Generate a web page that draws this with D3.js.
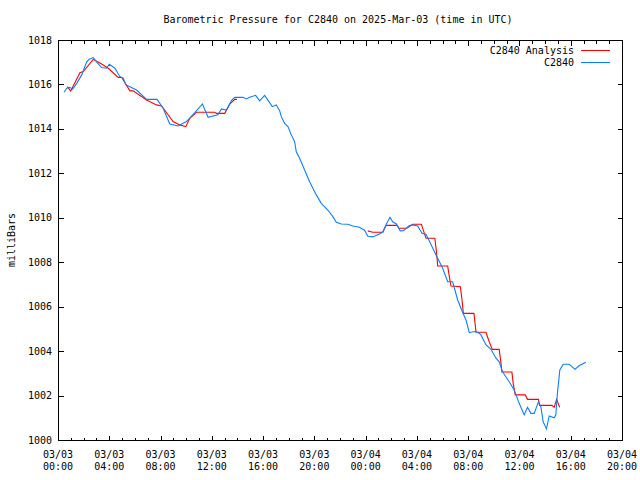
<!DOCTYPE html>
<html>
<head>
<meta charset="utf-8">
<script src="https://cdn.jsdelivr.net/npm/d3@7"></script>
<style>
  html, body { margin: 0; padding: 0; background: #fff; }
  text { font-family: "DejaVu Sans Mono", "Liberation Mono", monospace; font-size: 10px; fill: #000; }
</style>
</head>
<body>
<svg id="chart" width="640" height="480"></svg>
<script>
// ---- data (hours after 2025-03-03 00:00 UTC, pressure in mb) ----
const titleText = "Barometric Pressure for C2840 on 2025-Mar-03 (time in UTC)";
const yLabelText = "milliBars";
const seriesNames = ["C2840 Analysis", "C2840"];

const obsHours = [0.47,0.68,0.93,1.14,1.46,1.85,2.24,2.44,2.75,3.01,3.40,3.79,4.00,4.44,4.83,5.09,5.30,5.61,6.13,6.91,7.73,8.20,8.72,9.37,10.02,10.67,11.27,11.71,12.48,12.75,13.14,13.53,13.79,14.43,14.70,14.95,15.42,15.73,16.12,16.72,17.03,17.29,17.42,17.68,17.94,18.20,18.46,18.59,18.85,19.24,19.63,20.15,20.54,21.05,21.44,21.71,22.10,22.61,23.00,23.52,23.91,24.17,24.56,25.08,25.34,25.60,25.90,26.11,26.40,26.70,26.95,27.41,27.67,28.06,28.40,28.71,28.97,29.49,30.01,30.40,30.79,31.18,31.57,31.83,32.09,32.48,32.87,33.00,33.39,33.78,34.17,34.42,34.68,35.20,35.59,35.98,36.37,36.63,36.89,37.15,37.48,37.67,37.85,38.11,38.32,38.71,38.84,38.96,39.15,39.41,39.88,40.34,40.65,41.18];
const obsPressure = [1015.65,1015.83,1015.87,1015.78,1016.05,1016.43,1017.02,1017.13,1017.21,1017.02,1016.76,1016.73,1016.91,1016.73,1016.35,1016.28,1015.98,1015.90,1015.75,1015.33,1015.33,1014.93,1014.22,1014.13,1014.33,1014.73,1015.12,1014.52,1014.63,1014.90,1014.85,1015.27,1015.42,1015.42,1015.35,1015.42,1015.51,1015.26,1015.51,1015.00,1015.08,1014.82,1014.55,1014.25,1014.10,1013.73,1013.42,1012.97,1012.68,1012.15,1011.62,1011.03,1010.65,1010.35,1010.05,1009.80,1009.72,1009.71,1009.63,1009.57,1009.44,1009.17,1009.14,1009.27,1009.36,1009.70,1010.02,1009.82,1009.72,1009.41,1009.42,1009.65,1009.68,1009.63,1009.30,1009.26,1008.96,1008.33,1007.73,1007.12,1007.12,1006.30,1005.74,1005.40,1004.83,1004.88,1004.80,1004.73,1004.28,1004.08,1003.68,1003.52,1003.07,1002.62,1002.25,1001.65,1001.13,1001.47,1001.20,1001.20,1001.72,1001.50,1000.82,1000.50,1001.08,1001.00,1001.13,1002.10,1003.15,1003.41,1003.41,1003.18,1003.34,1003.50];

// null pressure marks the gap in the analysis series
const anaHours = [0.72,0.99,1.19,1.71,1.97,2.75,3.40,3.92,4.70,4.96,5.61,5.86,6.91,7.69,8.08,8.98,9.50,9.97,10.28,10.80,12.23,12.36,13.01,13.40,13.79,13.96,
  19.0,
  24.17,24.56,25.34,25.60,26.46,26.60,27.22,27.41,27.67,28.35,28.58,28.71,29.40,29.54,29.62,30.40,30.53,30.66,31.39,31.52,31.62,32.45,32.61,32.73,33.39,33.64,33.88,34.42,34.56,34.63,35.41,35.51,35.67,36.45,36.63,37.48,37.57,38.53,38.71,38.90,39.14];
const anaPressure = [1015.90,1015.71,1015.93,1016.53,1016.58,1017.13,1016.92,1016.73,1016.32,1016.32,1015.71,1015.71,1015.30,1015.08,1015.03,1014.33,1014.18,1014.10,1014.48,1014.75,1014.75,1014.70,1014.70,1015.12,1015.33,1015.33,
  null,
  1009.41,1009.35,1009.35,1009.66,1009.66,1009.53,1009.53,1009.60,1009.71,1009.71,1009.30,1009.08,1009.08,1008.40,1007.83,1007.83,1007.35,1006.93,1006.90,1006.30,1005.70,1005.70,1004.87,1004.85,1004.85,1004.42,1004.08,1004.08,1003.45,1003.06,1003.06,1002.55,1002.03,1002.03,1001.83,1001.83,1001.56,1001.56,1001.47,1001.83,1001.47];

const yTicks = [1000,1002,1004,1006,1008,1010,1012,1014,1016,1018];
const yDomain = [1000, 1018];
const xStart = "2025-03-03T00:00:00Z";
const xEnd = "2025-03-04T20:00:00Z";
const colors = { analysis: "#ff0000", obs: "#0a80ff" };

// ---- chart ----
const svg = d3.select("#chart");
const W = 640, H = 480;
const L = 58, R = 622, T = 40, B = 440;
const t0 = new Date(xStart), t1 = new Date(xEnd);
const hourToDate = h => new Date(t0.getTime() + h * 3600e3);

const x = d3.scaleUtc().domain([t0, t1]).range([L, R]);
const y = d3.scaleLinear().domain(yDomain).range([B, T]);

svg.append("rect").attr("width", W).attr("height", H).attr("fill", "#fff");

const obs = obsHours.map((h, i) => ({ t: hourToDate(h), p: obsPressure[i] }));
const ana = anaHours.map((h, i) => ({ t: hourToDate(h), p: anaPressure[i] }));

const line = d3.line().defined(d => d.p != null).x(d => x(d.t)).y(d => y(d.p));

// axes ticks
const majorX = d3.utcHour.every(4).range(t0, new Date(t1.getTime() + 1));
const minorX = d3.utcHour.every(1).range(t0, new Date(t1.getTime() + 1));

const g = svg.append("g").attr("shape-rendering", "crispEdges").attr("stroke", "#000").attr("stroke-width", 1);
minorX.forEach(d => {
  const xx = Math.round(x(d)) + 0.5;
  const len = (d.getUTCHours() % 4 === 0) ? 5 : 3;
  g.append("line").attr("x1", xx).attr("x2", xx).attr("y1", B + 0.5).attr("y2", B + 0.5 - len);
  g.append("line").attr("x1", xx).attr("x2", xx).attr("y1", T + 0.5).attr("y2", T + 0.5 + len);
});
yTicks.forEach(v => {
  const yy = Math.round(y(v)) + 0.5;
  g.append("line").attr("x1", L + 0.5).attr("x2", L + 0.5 + 5).attr("y1", yy).attr("y2", yy);
  g.append("line").attr("x1", R + 0.5).attr("x2", R + 0.5 - 5).attr("y1", yy).attr("y2", yy);
});

// data lines
svg.append("path").datum(ana).attr("d", line).attr("fill", "none")
  .attr("stroke", colors.analysis).attr("stroke-width", 1.1);
svg.append("path").datum(obs).attr("d", line).attr("fill", "none")
  .attr("stroke", colors.obs).attr("stroke-width", 1.1);

// frame
g.append("rect").attr("x", L + 0.5).attr("y", T + 0.5).attr("width", R - L).attr("height", B - T)
  .attr("fill", "none");

// tick labels
yTicks.forEach(v => {
  svg.append("text").attr("x", 52).attr("y", y(v) + 3.5).attr("text-anchor", "end").text(v);
});
const fmtDate = d3.utcFormat("%m/%d"), fmtTime = d3.utcFormat("%H:%M");
majorX.forEach(d => {
  const t = svg.append("text").attr("text-anchor", "middle").attr("x", x(d));
  t.append("tspan").attr("x", x(d)).attr("y", 458).text(fmtDate(d));
  t.append("tspan").attr("x", x(d)).attr("y", 470).text(fmtTime(d));
});

// title
svg.append("text").attr("x", 338).attr("y", 23).attr("text-anchor", "middle").text(titleText);

// y label
svg.append("text").attr("transform", "translate(15,240) rotate(-90)").attr("text-anchor", "middle").text(yLabelText);

// legend
const legend = [
  { name: seriesNames[0], color: colors.analysis, yy: 50 },
  { name: seriesNames[1], color: colors.obs, yy: 62 }
];
legend.forEach(l => {
  svg.append("text").attr("x", 574).attr("y", l.yy + 3.5).attr("text-anchor", "end").text(l.name);
  svg.append("line").attr("x1", 581).attr("x2", 610).attr("y1", l.yy + 0.5).attr("y2", l.yy + 0.5)
    .attr("stroke", l.color).attr("stroke-width", 1).attr("shape-rendering", "crispEdges");
});
</script>
</body>
</html>
